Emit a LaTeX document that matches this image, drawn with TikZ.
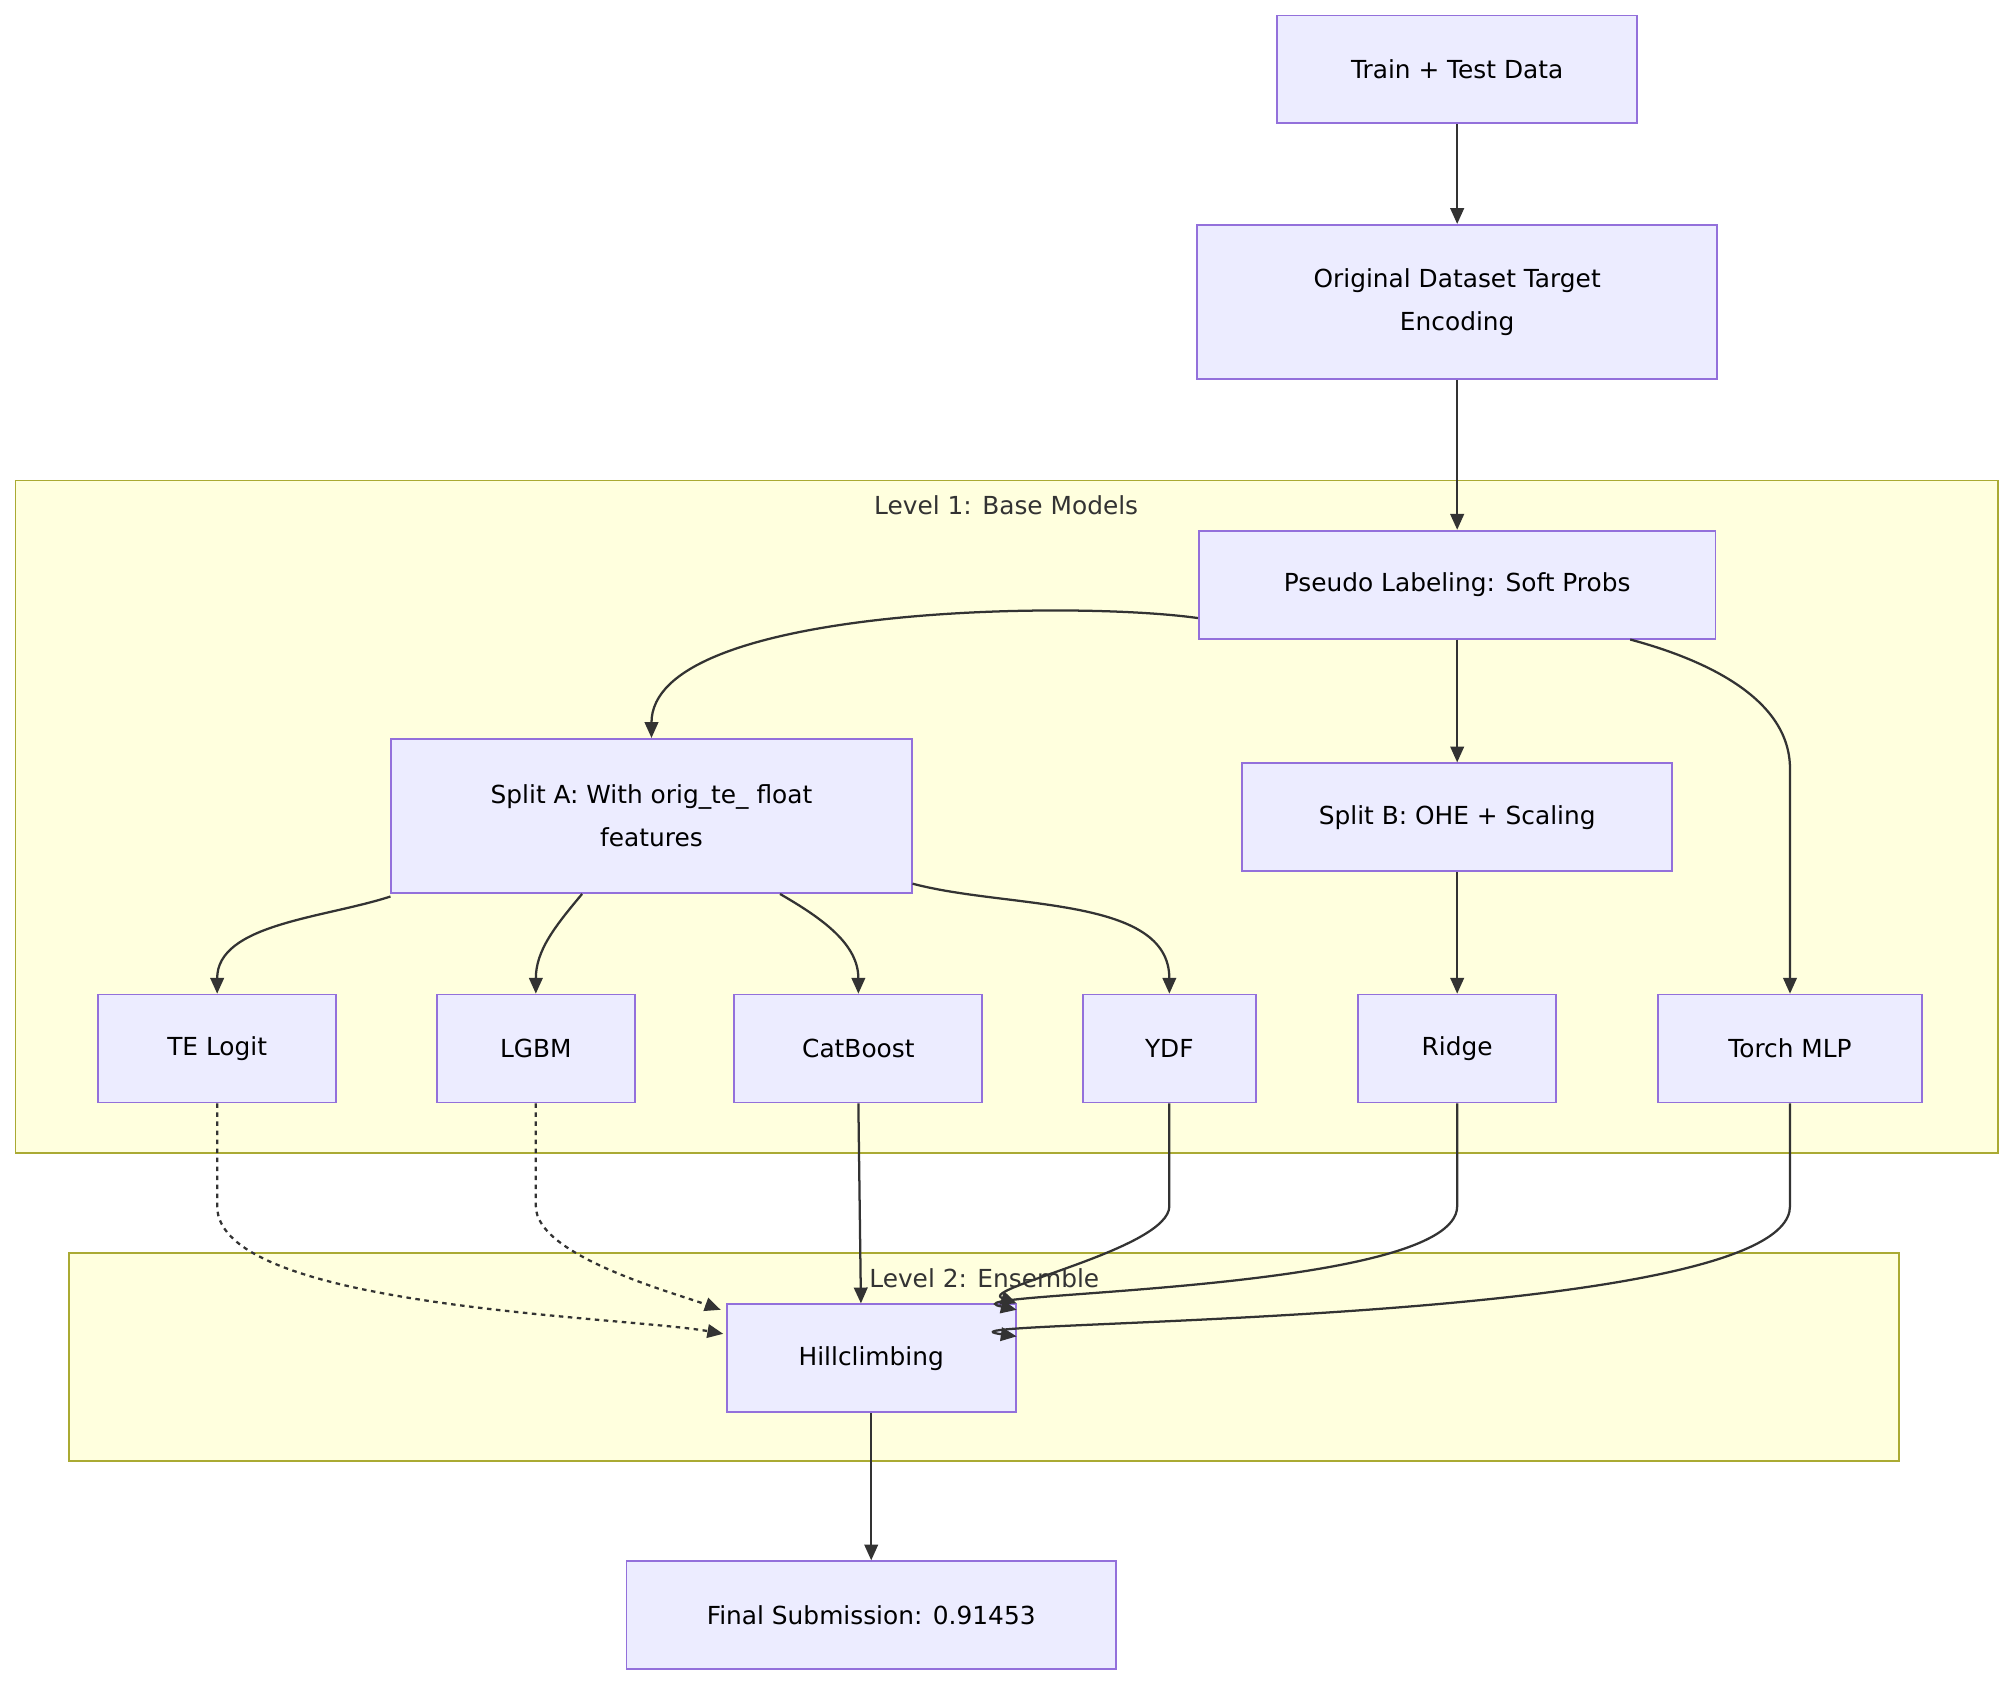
\documentclass[tikz,border=0pt]{standalone}
\usepackage{fontspec}
\setmainfont{DejaVu Sans}
\usetikzlibrary{arrows.meta,calc}
\definecolor{boxfill}{HTML}{ECECFF}
\definecolor{boxline}{HTML}{9370DB}
\definecolor{grpfill}{HTML}{FFFFDE}
\definecolor{grpline}{HTML}{AAAA33}
\definecolor{edge}{HTML}{333333}
\tikzset{
  box/.style={draw=boxline, fill=boxfill, line width=0.8pt, align=center,
    minimum height=1.68cm, inner sep=0pt, font=\fontsize{11}{19}\selectfont},
  grp/.style={draw=grpline, fill=grpfill, line width=0.8pt},
  grplabel/.style={font=\fontsize{11}{13}\selectfont, text=edge},
  arr/.style={draw=edge, line width=1pt, -{Triangle[length=7pt,width=6pt]}},
  dotarr/.style={arr, dash pattern=on 2pt off 2pt}
}
\begin{document}
\begin{tikzpicture}[x=0.02cm,y=-0.02cm]
\useasboundingbox (0,0) rectangle (1565,1310);
%%% clusters
\draw[grp] (12,374) rectangle (1555,897);
\node[grplabel] (l1label) at (783,393) {Level 1: Base Models};
\draw[grp] (54,975) rectangle (1478,1137);
%%% nodes
\node[box, minimum width=5.6cm] (train) at (1134,54) {Train + Test Data};
\node[box, minimum width=8.1cm, minimum height=2.4cm] (orig) at (1134,235) {Original Dataset Target\\Encoding};
\node[box, minimum width=8.04cm] (pseudo) at (1134,455) {Pseudo Labeling: Soft Probs};
\node[box, minimum width=8.1cm, minimum height=2.4cm] (splitA) at (507,635) {Split A: With orig\_te\_ float\\features};
\node[box, minimum width=6.7cm] (splitB) at (1134,636) {Split B: OHE + Scaling};
\node[box, minimum width=3.7cm] (te) at (169,816) {TE Logit};
\node[box, minimum width=3.08cm] (lgbm) at (417,816) {LGBM};
\node[box, minimum width=3.86cm] (cat) at (668,816) {CatBoost};
\node[box, minimum width=2.7cm] (ydf) at (910,816) {YDF};
\node[box, minimum width=3.08cm] (ridge) at (1134,816) {Ridge};
\node[box, minimum width=4.12cm] (torch) at (1393,816) {Torch MLP};
\node[box, minimum width=4.5cm] (hill) at (678,1057) {Hillclimbing};
\node[box, minimum width=7.62cm] (final) at (678,1257) {Final Submission: 0.91453};
\node[grplabel] (l2label) at (766,995) {Level 2: Ensemble};
%%% connectors
\draw[arr] (train) -- (orig);
\draw[arr] (orig) -- (pseudo);
\draw[arr] (pseudo) -- (splitB);
\draw[arr] (splitB) -- (ridge);
\draw[arr] ($(pseudo.west)+(0,26)$) to[out=172,in=90,looseness=0.6] (splitA.north);
\draw[arr] ($(pseudo.south east)+(-67,0)$) to[out=-15,in=90,looseness=0.9] ($(torch.north)+(0,-175)$) -- (torch.north);
\draw[arr] ($(splitA.south west)+(0,2)$) to[out=-162,in=90,looseness=0.9] (te.north);
\draw[arr] ($(splitA.south)+(-54,0)$) to[out=-130,in=90] (lgbm.north);
\draw[arr] ($(splitA.south)+(100,0)$) to[out=-30,in=90] (cat.north);
\draw[arr] ($(splitA.south east)+(0,-8)$) to[out=-15,in=90,looseness=0.9] (ydf.north);
\draw[dotarr] (te.south) -- ++(0,80) to[out=-90,in=170,looseness=0.5] ($(hill.west)+(-2,-19)$);
\draw[dotarr] (lgbm.south) -- ++(0,80) to[out=-90,in=160,looseness=0.6] ($(hill.north west)+(-4,5)$);
\draw[arr] (cat.south) -- ($(hill.north)+(-8,0)$);
\draw[arr] (ydf.south) -- ++(0,80) to[out=-90,in=160,looseness=0.6] (hill.north east);
\draw[arr] (ridge.south) -- ++(0,80) to[out=-90,in=168,looseness=0.5] ($(hill.north east)+(0,5)$);
\draw[arr] (torch.south) -- ++(0,80) to[out=-90,in=172,looseness=0.4] ($(hill.east)+(0,-17)$);
\draw[arr] (hill) -- (final);
\end{tikzpicture}
\end{document}
